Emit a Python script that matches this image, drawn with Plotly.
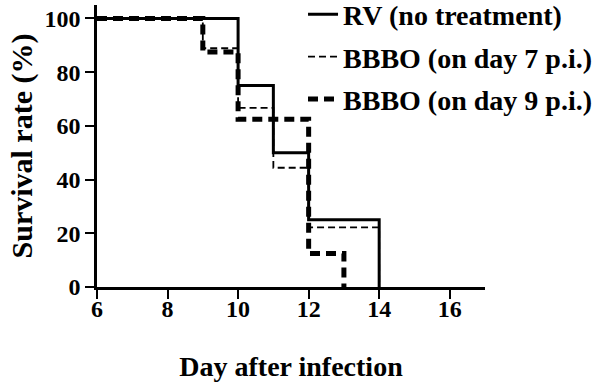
import plotly.graph_objects as go

# Kaplan-Meier style survival data (day, survival %)
rv_days = [6, 10, 11, 12, 14]
rv_surv = [100, 75, 50, 25, 0]

d7_days = [6, 9, 10, 11, 12, 14]
d7_surv = [100, 88.9, 66.7, 44.4, 22.2, 0]

d9_days = [6, 9, 10, 12, 13]
d9_surv = [100, 87.5, 62.5, 12.5, 0]

names = ["RV (no treatment)", "BBBO (on day 7 p.i.)", "BBBO (on day 9 p.i.)"]
x_ticks = [6, 8, 10, 12, 14, 16]
y_ticks = [0, 20, 40, 60, 80, 100]

FONT = "Liberation Serif"

fig = go.Figure()
fig.add_trace(go.Scatter(x=rv_days, y=rv_surv, mode="lines", name=names[0],
                         line=dict(shape="hv", color="black", width=3),
                         legendgroup="a"))
fig.add_trace(go.Scatter(x=d7_days, y=d7_surv, mode="lines", name=names[1],
                         line=dict(shape="hv", color="black", width=1.8, dash="7px,4px"),
                         legendgroup="b"))
fig.add_trace(go.Scatter(x=d9_days, y=d9_surv, mode="lines", name=names[2],
                         line=dict(shape="hv", color="black", width=5, dash="10px,6px"),
                         legendgroup="c"))

fig.update_layout(
    width=600, height=383,
    margin=dict(l=97, r=115, t=5, b=96, autoexpand=False),
    paper_bgcolor="white", plot_bgcolor="white",
    font=dict(family=FONT, color="black"),
    showlegend=True,
    legend=dict(x=0.531, y=1.055, xanchor="left", yanchor="top",
                font=dict(family=FONT, size=28, color="black", weight="bold"),
                bgcolor="rgba(0,0,0,0)", tracegroupgap=3),
    xaxis=dict(range=[6, 17], tickvals=x_ticks, showline=True, linewidth=2.5,
               linecolor="black", ticks="outside", ticklen=9, tickwidth=2,
               tickcolor="black", showgrid=False, zeroline=False, automargin=False,
               ticklabelstandoff=-11,
               tickfont=dict(family=FONT, size=24, color="black", weight="bold"),
               title=dict(text="Day after infection", standoff=36,
                          font=dict(family=FONT, size=28, color="black", weight="bold"))),
    yaxis=dict(range=[0, 105], tickvals=y_ticks, showline=True, linewidth=2.5,
               linecolor="black", ticks="outside", ticklen=9, tickwidth=2,
               tickcolor="black", showgrid=False, zeroline=False, automargin=False,
               tickfont=dict(family=FONT, size=24, color="black", weight="bold"),
               title=dict(text="Survival rate (%)", standoff=3,
                          font=dict(family=FONT, size=30, color="black", weight="bold"))),
)

fig.write_html("out.html", config={"displayModeBar": False},
               post_script="document.body.style.margin='0';")
